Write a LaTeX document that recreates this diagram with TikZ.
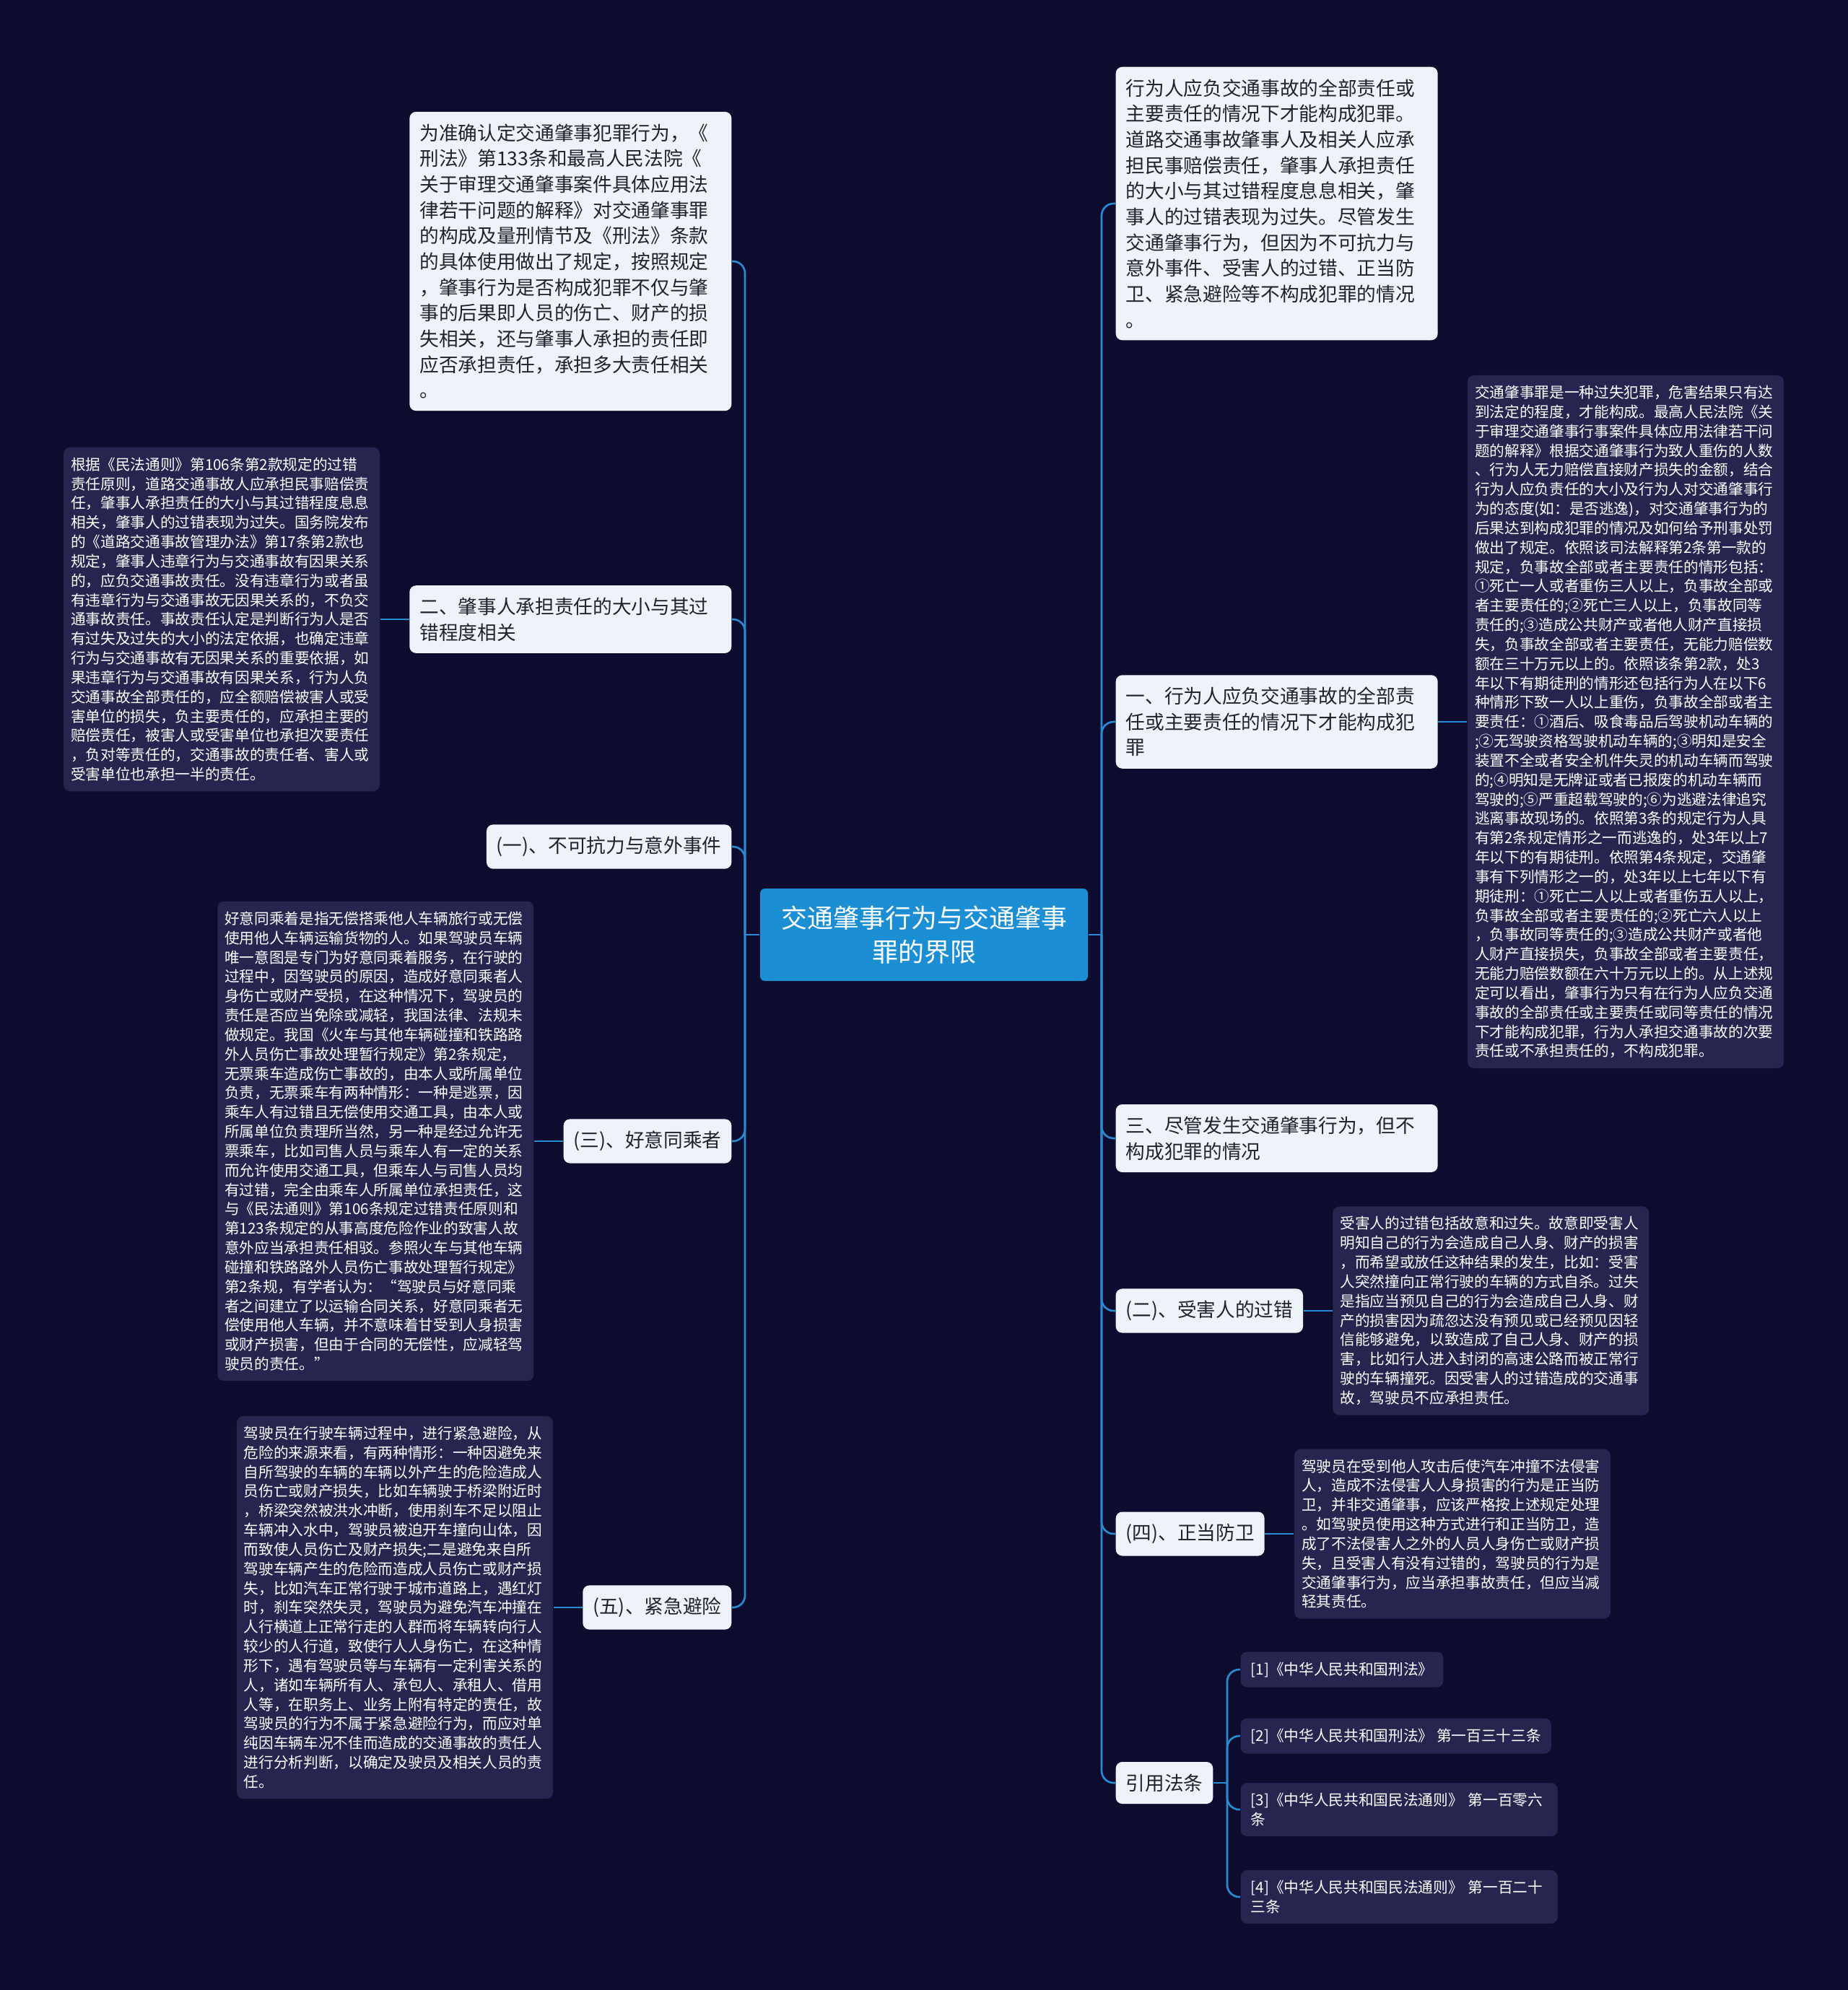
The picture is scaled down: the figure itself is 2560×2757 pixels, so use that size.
\documentclass[tikz,border=0pt]{standalone}
\usepackage{fontspec}
\setmainfont{Noto Sans CJK SC}
\usetikzlibrary{positioning}

\definecolor{bgnavy}{RGB}{14,12,46}
\definecolor{boxdark}{RGB}{38,37,80}
\definecolor{boxlight}{RGB}{237,242,251}
\definecolor{rootblue}{RGB}{28,142,212}
\definecolor{linkblue}{RGB}{40,140,210}
\definecolor{inkdark}{RGB}{34,34,44}

\begin{document}
\begin{tikzpicture}[
        x=0.3pt, y=-0.3pt,
        node distance=12pt,
        base/.style={rectangle, rounded corners=2.7pt, align=left},
        topic/.style={base, fill=boxlight, text=inkdark, font=\fontsize{8pt}{10.7pt}\selectfont, inner xsep=4.2pt, inner ysep=5pt},
        wide/.style={topic, text width=125.4pt},
        note/.style={base, fill=boxdark, text=white, font=\fontsize{6.2pt}{8.05pt}\selectfont, inner xsep=3pt, inner ysep=4.2pt, text width=125.4pt},
        cite/.style={base, fill=boxdark, text=white, font=\fontsize{6.2pt}{8.05pt}\selectfont, inner xsep=4.2pt, inner ysep=4.2pt},
        root/.style={base, fill=rootblue, text=white, align=center, font=\fontsize{10.8pt}{14.2pt}\selectfont, minimum width=136.2pt, minimum height=38.4pt, rounded corners=2pt},
        link/.style={draw=linkblue, line width=0.8pt, rounded corners=5pt}
    ]
        \fill [bgnavy] (0,0) rectangle (2560,2757);
        \useasboundingbox (0,0) rectangle (2560,2757);

        \node (root) [root] at (1280,1295) {交通肇事行为与交通肇事\\罪的界限};

        \node (a1) [wide, anchor=east] at (1014,362) {为准确认定交通肇事犯罪行为，《\\刑法》第133条和最高人民法院《\\关于审理交通肇事案件具体应用法\\律若干问题的解释》对交通肇事罪\\的构成及量刑情节及《刑法》条款\\的具体使用做出了规定，按照规定\\，肇事行为是否构成犯罪不仅与肇\\事的后果即人员的伤亡、财产的损\\失相关，还与肇事人承担的责任即\\应否承担责任，承担多大责任相关\\。};
        \node (a2) [wide, anchor=east] at (1014,858) {二、肇事人承担责任的大小与其过\\错程度相关};
        \node (a3) [topic, anchor=east] at (1014,1173) {(一)、不可抗力与意外事件};
        \node (a4) [topic, anchor=east] at (1014,1581) {(三)、好意同乘者};
        \node (a5) [topic, anchor=east] at (1014,2227) {(五)、紧急避险};

        \node (a2n) [note, left=of a2] {根据《民法通则》第106条第2款规定的过错\\责任原则，道路交通事故人应承担民事赔偿责\\任，肇事人承担责任的大小与其过错程度息息\\相关，肇事人的过错表现为过失。国务院发布\\的《道路交通事故管理办法》第17条第2款也\\规定，肇事人违章行为与交通事故有因果关系\\的，应负交通事故责任。没有违章行为或者虽\\有违章行为与交通事故无因果关系的，不负交\\通事故责任。事故责任认定是判断行为人是否\\有过失及过失的大小的法定依据，也确定违章\\行为与交通事故有无因果关系的重要依据，如\\果违章行为与交通事故有因果关系，行为人负\\交通事故全部责任的，应全额赔偿被害人或受\\害单位的损失，负主要责任的，应承担主要的\\赔偿责任，被害人或受害单位也承担次要责任\\，负对等责任的，交通事故的责任者、害人或\\受害单位也承担一半的责任。};
        \node (a4n) [note, left=of a4] {好意同乘着是指无偿搭乘他人车辆旅行或无偿\\使用他人车辆运输货物的人。如果驾驶员车辆\\唯一意图是专门为好意同乘着服务，在行驶的\\过程中，因驾驶员的原因，造成好意同乘者人\\身伤亡或财产受损，在这种情况下，驾驶员的\\责任是否应当免除或减轻，我国法律、法规未\\做规定。我国《火车与其他车辆碰撞和铁路路\\外人员伤亡事故处理暂行规定》第2条规定，\\无票乘车造成伤亡事故的，由本人或所属单位\\负责，无票乘车有两种情形：一种是逃票，因\\乘车人有过错且无偿使用交通工具，由本人或\\所属单位负责理所当然，另一种是经过允许无\\票乘车，比如司售人员与乘车人有一定的关系\\而允许使用交通工具，但乘车人与司售人员均\\有过错，完全由乘车人所属单位承担责任，这\\与《民法通则》第106条规定过错责任原则和\\第123条规定的从事高度危险作业的致害人故\\意外应当承担责任相驳。参照火车与其他车辆\\碰撞和铁路路外人员伤亡事故处理暂行规定》\\第2条规，有学者认为：“驾驶员与好意同乘\\者之间建立了以运输合同关系，好意同乘者无\\偿使用他人车辆，并不意味着甘受到人身损害\\或财产损害，但由于合同的无偿性，应减轻驾\\驶员的责任。”};
        \node (a5n) [note, left=of a5] {驾驶员在行驶车辆过程中，进行紧急避险，从\\危险的来源来看，有两种情形：一种因避免来\\自所驾驶的车辆的车辆以外产生的危险造成人\\员伤亡或财产损失，比如车辆驶于桥梁附近时\\，桥梁突然被洪水冲断，使用刹车不足以阻止\\车辆冲入水中，驾驶员被迫开车撞向山体，因\\而致使人员伤亡及财产损失;二是避免来自所\\驾驶车辆产生的危险而造成人员伤亡或财产损\\失，比如汽车正常行驶于城市道路上，遇红灯\\时，刹车突然失灵，驾驶员为避免汽车冲撞在\\人行横道上正常行走的人群而将车辆转向行人\\较少的人行道，致使行人人身伤亡，在这种情\\形下，遇有驾驶员等与车辆有一定利害关系的\\人，诸如车辆所有人、承包人、承租人、借用\\人等，在职务上、业务上附有特定的责任，故\\驾驶员的行为不属于紧急避险行为，而应对单\\纯因车辆车况不佳而造成的交通事故的责任人\\进行分析判断，以确定及驶员及相关人员的责\\任。};

        \node (b1) [wide, anchor=west] at (1545,282) {行为人应负交通事故的全部责任或\\主要责任的情况下才能构成犯罪。\\道路交通事故肇事人及相关人应承\\担民事赔偿责任，肇事人承担责任\\的大小与其过错程度息息相关，肇\\事人的过错表现为过失。尽管发生\\交通肇事行为，但因为不可抗力与\\意外事件、受害人的过错、正当防\\卫、紧急避险等不构成犯罪的情况\\。};
        \node (b2) [wide, anchor=west] at (1545,1000) {一、行为人应负交通事故的全部责\\任或主要责任的情况下才能构成犯\\罪};
        \node (b3) [wide, anchor=west] at (1545,1577) {三、尽管发生交通肇事行为，但不\\构成犯罪的情况};
        \node (b4) [topic, anchor=west] at (1545,1816) {(二)、受害人的过错};
        \node (b5) [topic, anchor=west] at (1545,2125) {(四)、正当防卫};
        \node (b6) [topic, anchor=west] at (1545,2470) {引用法条};

        \node (b2n) [note, right=of b2] {交通肇事罪是一种过失犯罪，危害结果只有达\\到法定的程度，才能构成。最高人民法院《关\\于审理交通肇事行事案件具体应用法律若干问\\题的解释》根据交通肇事行为致人重伤的人数\\、行为人无力赔偿直接财产损失的金额，结合\\行为人应负责任的大小及行为人对交通肇事行\\为的态度(如：是否逃逸)，对交通肇事行为的\\后果达到构成犯罪的情况及如何给予刑事处罚\\做出了规定。依照该司法解释第2条第一款的\\规定，负事故全部或者主要责任的情形包括：\\①死亡一人或者重伤三人以上，负事故全部或\\者主要责任的;②死亡三人以上，负事故同等\\责任的;③造成公共财产或者他人财产直接损\\失，负事故全部或者主要责任，无能力赔偿数\\额在三十万元以上的。依照该条第2款，处3\\年以下有期徒刑的情形还包括行为人在以下6\\种情形下致一人以上重伤，负事故全部或者主\\要责任：①酒后、吸食毒品后驾驶机动车辆的\\;②无驾驶资格驾驶机动车辆的;③明知是安全\\装置不全或者安全机件失灵的机动车辆而驾驶\\的;④明知是无牌证或者已报废的机动车辆而\\驾驶的;⑤严重超载驾驶的;⑥为逃避法律追究\\逃离事故现场的。依照第3条的规定行为人具\\有第2条规定情形之一而逃逸的，处3年以上7\\年以下的有期徒刑。依照第4条规定，交通肇\\事有下列情形之一的，处3年以上七年以下有\\期徒刑：①死亡二人以上或者重伤五人以上，\\负事故全部或者主要责任的;②死亡六人以上\\，负事故同等责任的;③造成公共财产或者他\\人财产直接损失，负事故全部或者主要责任，\\无能力赔偿数额在六十万元以上的。从上述规\\定可以看出，肇事行为只有在行为人应负交通\\事故的全部责任或主要责任或同等责任的情况\\下才能构成犯罪，行为人承担交通事故的次要\\责任或不承担责任的，不构成犯罪。};
        \node (b4n) [note, right=of b4] {受害人的过错包括故意和过失。故意即受害人\\明知自己的行为会造成自己人身、财产的损害\\，而希望或放任这种结果的发生，比如：受害\\人突然撞向正常行驶的车辆的方式自杀。过失\\是指应当预见自己的行为会造成自己人身、财\\产的损害因为疏忽达没有预见或已经预见因轻\\信能够避免，以致造成了自己人身、财产的损\\害，比如行人进入封闭的高速公路而被正常行\\驶的车辆撞死。因受害人的过错造成的交通事\\故，驾驶员不应承担责任。};
        \node (b5n) [note, right=of b5] {驾驶员在受到他人攻击后使汽车冲撞不法侵害\\人，造成不法侵害人人身损害的行为是正当防\\卫，并非交通肇事，应该严格按上述规定处理\\。如驾驶员使用这种方式进行和正当防卫，造\\成了不法侵害人之外的人员人身伤亡或财产损\\失，且受害人有没有过错的，驾驶员的行为是\\交通肇事行为，应当承担事故责任，但应当减\\轻其责任。};

        \node (c1) [cite, anchor=west] at (1718,2313) {[1]《中华人民共和国刑法》};
        \node (c2) [cite, anchor=west] at (1718,2405) {[2]《中华人民共和国刑法》 第一百三十三条};
        \node (c3) [cite, anchor=west, text width=123.3pt] at (1718,2507) {[3]《中华人民共和国民法通则》 第一百零六\\条};
        \node (c4) [cite, anchor=west, text width=123.3pt] at (1718,2628) {[4]《中华人民共和国民法通则》 第一百二十\\三条};

        \coordinate (lt) at (1032,1295);
        \coordinate (rt) at (1526,1295);
        \coordinate (ct) at (1700,2470);

        \draw [link] (root.west) -- (lt);
        \draw [link] (root.east) -- (rt);
        \draw [link] (lt) |- (a1.east);
        \draw [link] (lt) |- (a2.east);
        \draw [link] (lt) |- (a3.east);
        \draw [link] (lt) |- (a4.east);
        \draw [link] (lt) |- (a5.east);
        \draw [link] (a2.west) -- (a2n.east);
        \draw [link] (a4.west) -- (a4n.east);
        \draw [link] (a5.west) -- (a5n.east);
        \draw [link] (rt) |- (b1.west);
        \draw [link] (rt) |- (b2.west);
        \draw [link] (rt) |- (b3.west);
        \draw [link] (rt) |- (b4.west);
        \draw [link] (rt) |- (b5.west);
        \draw [link] (rt) |- (b6.west);
        \draw [link] (b2.east) -- (b2n.west);
        \draw [link] (b4.east) -- (b4n.west);
        \draw [link] (b5.east) -- (b5n.west);
        \draw [link] (b6.east) -- (ct);
        \draw [link] (ct) |- (c1.west);
        \draw [link] (ct) |- (c2.west);
        \draw [link] (ct) |- (c3.west);
        \draw [link] (ct) |- (c4.west);
    \end{tikzpicture}
\end{document}
